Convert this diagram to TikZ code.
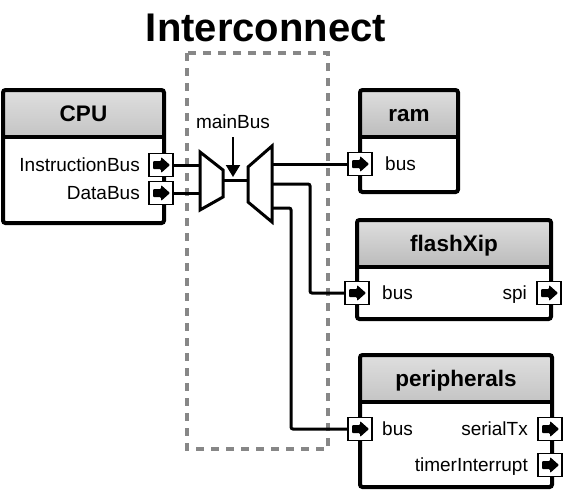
\documentclass[tikz,border=0pt]{standalone}
\usepackage{fontspec}
\setmainfont{Liberation Sans}
\usetikzlibrary{arrows.meta}
\begin{document}
\begin{tikzpicture}[x=1pt,y=-1pt,
  box/.style={draw, line width=4pt, rounded corners=2.5pt, fill=white, inner sep=0pt, outer sep=0pt, anchor=north west,
    path picture={\shade[top color=black!12,bottom color=black!42] ([yshift=3pt]path picture bounding box.north west) rectangle ([yshift=-47pt]path picture bounding box.north east);
      \draw[line width=3.5pt] ([yshift=-47pt,xshift=-3pt]path picture bounding box.north west) -- ([yshift=-47pt,xshift=3pt]path picture bounding box.north east);}},
  port/.style={draw, line width=1.8pt, fill=white, minimum width=24pt, minimum height=23pt, inner sep=0pt, outer sep=0pt},
  parrow/.style={fill=black, rounded corners=1pt},
  wire/.style={line width=3pt},
  mux/.style={draw, line width=3pt, fill=white, line join=miter},
  lbl/.style={font=\fontsize{19}{21}\selectfont, inner sep=0pt},
  ttl/.style={font=\bfseries\fontsize{22.5}{25}\selectfont, inner sep=0pt, anchor=base},
  frame/.style={draw=black!47, line width=3.5pt, dash pattern=on 8pt off 7pt}
]
\useasboundingbox (0,0) rectangle (563,491);

% title and interconnect frame
\node[font=\bfseries\fontsize{40}{44}\selectfont] (title) at (266,28) {Interconnect};
\draw[frame] (187,53) rectangle (328,449);

% component boxes
\node[box, minimum width=161pt, minimum height=133pt] (cpu) at (3,90) {};
\node[ttl] (cputitle) at (83.5,121) {CPU};
\node[box, minimum width=98pt, minimum height=102pt] (ram) at (360,90) {};
\node[ttl] (ramtitle) at (409,121) {ram};
\node[box, minimum width=194pt, minimum height=99pt] (flash) at (357,220) {};
\node[ttl] (flashtitle) at (454,251) {flashXip};
\node[box, minimum width=192pt, minimum height=132pt] (per) at (360,355) {};
\node[ttl] (pertitle) at (456,386) {peripherals};

% port labels
\node[lbl, anchor=base east] (lib) at (140,171) {InstructionBus};
\node[lbl, anchor=base east] (ldb) at (140,199) {DataBus};
\node[lbl, anchor=base west] (lrb) at (385,170) {bus};
\node[lbl, anchor=base west] (lfb) at (382,299) {bus};
\node[lbl, anchor=base east] (lfs) at (527,299) {spi};
\node[lbl, anchor=base west] (lpb) at (382,435) {bus};
\node[lbl, anchor=base east] (lps) at (528,435) {serialTx};
\node[lbl, anchor=base east] (lpt) at (528,471) {timerInterrupt};

% muxes
\coordinate (mLin) at (200,0);
\coordinate (mLout) at (223,180);
\coordinate (mRin) at (248,180);
\coordinate (mRout) at (272,0);
\draw[wire] (mLout) -- (mRin);
\draw[mux] (200,152) -- (223,170) -- (223,197) -- (200,210) -- cycle;
\draw[mux] (248,167) -- (272,146) -- (272,222) -- (248,202) -- cycle;

% mainBus label and arrow
\node[lbl] (mb) at (233,122) {mainBus};
\coordinate (mbs) at (233,137);
\coordinate (mbt) at (233,177);
\draw[line width=2pt, -{Triangle[width=14pt,length=12pt]}] (mbs) -- (mbt);

% ports
\node[port] (cpuib) at (161,165) {};
\node[port] (cpudb) at (161,193) {};
\node[port] (rambus) at (360,164) {};
\node[port] (flbus) at (357,293) {};
\node[port] (flspi) at (549,293) {};
\node[port] (pbus) at (360,429) {};
\node[port] (ptx) at (550,429) {};
\node[port] (pti) at (550,465) {};
\foreach \p in {cpuib,cpudb,rambus,flbus,flspi,pbus,ptx,pti}{
  \fill[parrow] ([shift={(-8pt,-4pt)}]\p.center) -- ([shift={(0pt,-4pt)}]\p.center) -- ([shift={(0pt,-8pt)}]\p.center)
    -- ([shift={(9pt,0pt)}]\p.center) -- ([shift={(0pt,8pt)}]\p.center) -- ([shift={(0pt,4pt)}]\p.center)
    -- ([shift={(-8pt,4pt)}]\p.center) -- cycle;
}

% wires
\draw[wire] (cpuib.east) -- (cpuib.east -| mLin);
\draw[wire] (cpudb.east) -- (cpudb.east -| mLin);
\draw[wire] (rambus.west -| mRout) -- (rambus.west);
\coordinate (o2) at (272,184);
\coordinate (t2) at (310,0);
\coordinate (o3) at (272,208);
\coordinate (t3) at (291,0);
\draw[wire, rounded corners=2pt] (o2) -| (t2 |- flbus.west) -- (flbus.west);
\draw[wire, rounded corners=2pt] (o3) -| (t3 |- pbus.west) -- (pbus.west);
\end{tikzpicture}
\end{document}
